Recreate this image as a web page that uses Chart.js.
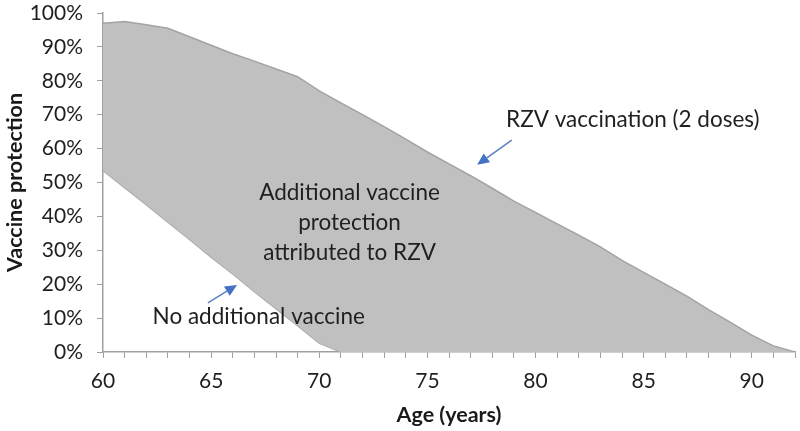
<!DOCTYPE html>
<html>
<head>
<meta charset="utf-8">
<script src="https://cdn.jsdelivr.net/npm/chart.js@4.4.1/dist/chart.umd.min.js"></script>
<style>
    html, body { margin: 0; padding: 0; background: #fff; }
    #wrap { width: 800px; height: 431px; position: relative; }
</style>
</head>
<body>
<div id="wrap"><canvas id="canvasId"></canvas></div>
<script>
// ages on the x axis (years)
const ages = [60, 61, 62, 63, 64, 65, 66, 67, 68, 69, 70, 71, 72, 73, 74, 75, 76,
    77, 78, 79, 80, 81, 82, 83, 84, 85, 86, 87, 88, 89, 90, 91, 92];

// vaccine protection (%) with RZV, 2 doses
const rzvProtection = [97, 97.5, 96.5, 95.5, 93, 90.5, 88, 85.8, 83.5, 81.2, 77, 73.5, 70,
    66.5, 62.8, 59, 55.5, 52, 48.3, 44.5, 41.2, 37.8, 34.5, 31, 27, 23.5, 20, 16.5,
    12.5, 8.8, 5, 1.8, 0];

// vaccine protection (%) with no additional vaccine
const noVaccineProtection = [53.5, 48.5, 43.5, 38.3, 33.2, 28, 23, 17.8, 12.8, 7.8, 2.6, 0, 0,
    0, 0, 0, 0, 0, 0, 0, 0, 0, 0, 0, 0, 0, 0, 0, 0, 0, 0, 0, 0];

const xTickLabels = [60, 65, 70, 75, 80, 85, 90];

// text notes, anchored in data units (age, %)
const notes = [
    { lines: ['RZV vaccination (2 doses)'], x: 84.5, y: 68.4 },
    { lines: ['Additional vaccine', 'protection', 'attributed to RZV'], x: 71.4, y: 38.1 },
    { lines: ['No additional vaccine'], x: 67.2, y: 10.3 },
];

// arrows, from tail to head, in data units
const arrows = [
    { from: [78.9, 62.5], to: [77.3, 55.2] },
    { from: [64.85, 14.5], to: [66.2, 19.8] },
];

const toPoints = (vals) => ages.map((a, i) => ({ x: a, y: vals[i] }));

const notesPlugin = {
    id: 'notes',
    afterDatasetsDraw(chart) {
        const { ctx, scales: { x, y } } = chart;
        ctx.save();
        ctx.font = '22.5px Lato';
        ctx.fillStyle = '#1f1f1f';
        ctx.textAlign = 'center';
        ctx.textBaseline = 'middle';
        notes.forEach(n => {
            const px = x.getPixelForValue(n.x);
            const py = y.getPixelForValue(n.y);
            const off = (n.lines.length - 1) / 2;
            n.lines.forEach((t, i) => ctx.fillText(t, px, py + (i - off) * 30));
        });

        ctx.strokeStyle = '#5a80c4';
        ctx.fillStyle = '#4472c4';
        ctx.lineWidth = 1.5;
        arrows.forEach(a => {
            const x0 = x.getPixelForValue(a.from[0]), y0 = y.getPixelForValue(a.from[1]);
            const x1 = x.getPixelForValue(a.to[0]), y1 = y.getPixelForValue(a.to[1]);
            const ang = Math.atan2(y1 - y0, x1 - x0);
            const head = 12, half = 5.5;
            const bx = x1 - head * Math.cos(ang), by = y1 - head * Math.sin(ang);
            ctx.beginPath();
            ctx.moveTo(x0, y0);
            ctx.lineTo(bx, by);
            ctx.stroke();
            ctx.beginPath();
            ctx.moveTo(x1, y1);
            ctx.lineTo(bx - half * Math.sin(ang), by + half * Math.cos(ang));
            ctx.lineTo(bx + half * Math.sin(ang), by - half * Math.cos(ang));
            ctx.closePath();
            ctx.fill();
        });
        ctx.restore();
    }
};

const ctx = document.querySelector('#canvasId');

const config = {
    type: 'line',
    data: {
        datasets: [{
            label: 'RZV vaccination (2 doses)',
            data: toPoints(rzvProtection),
            borderColor: '#a3a3a3',
            borderWidth: 1.5,
            backgroundColor: '#c0c0c0',
            fill: '+1',
            pointRadius: 0,
            tension: 0,
        }, {
            label: 'No additional vaccine',
            data: toPoints(noVaccineProtection),
            borderColor: '#a3a3a3',
            borderWidth: 1.5,
            fill: false,
            pointRadius: 0,
            tension: 0,
        }],
    },
    options: {
        animation: false,
        responsive: true,
        maintainAspectRatio: false,
        layout: {
            padding: { top: 13, right: 5, bottom: 0, left: 0 },
        },
        scales: {
            x: {
                type: 'linear',
                min: 60,
                max: 92,
                afterFit: (scale) => {
                    scale.height = 79;
                    scale.paddingLeft = 0;
                    scale.paddingRight = 0;
                },
                ticks: {
                    stepSize: 1,
                    autoSkip: false,
                    maxRotation: 0,
                    padding: 11,
                    color: '#1f1f1f',
                    font: { family: 'Lato', size: 21 },
                    callback: (v) => xTickLabels.includes(v) ? String(v) : '',
                },
                grid: {
                    drawOnChartArea: false,
                    drawTicks: true,
                    tickLength: 6,
                    color: '#a0a0a0',
                    lineWidth: 1,
                },
                border: { display: true, color: '#a0a0a0', width: 1.5 },
                title: {
                    display: true,
                    text: 'Age (years)',
                    color: '#1a1a1a',
                    font: { family: 'Lato', size: 21.5, weight: 'bold' },
                    padding: { top: 0, bottom: 3 },
                },
            },
            y: {
                min: 0,
                max: 100,
                afterFit: (scale) => {
                    scale.width = 103;
                    scale.paddingTop = 0;
                    scale.paddingBottom = 0;
                },
                ticks: {
                    stepSize: 10,
                    padding: 14,
                    color: '#1f1f1f',
                    font: { family: 'Lato', size: 21 },
                    callback: (v) => v + '%',
                },
                grid: {
                    drawOnChartArea: false,
                    drawTicks: true,
                    tickLength: 6,
                    color: '#a0a0a0',
                    lineWidth: 1,
                },
                border: { display: true, color: '#a0a0a0', width: 1.5 },
                title: {
                    display: true,
                    text: 'Vaccine protection',
                    color: '#1a1a1a',
                    font: { family: 'Lato', size: 21.5, weight: 'bold' },
                    padding: { top: 2, bottom: 0 },
                },
            },
        },
        plugins: {
            legend: { display: false },
            tooltip: { enabled: false },
        },
    },
    plugins: [notesPlugin],
};

const chart = new Chart(ctx, config);
</script>
</body>
</html>
